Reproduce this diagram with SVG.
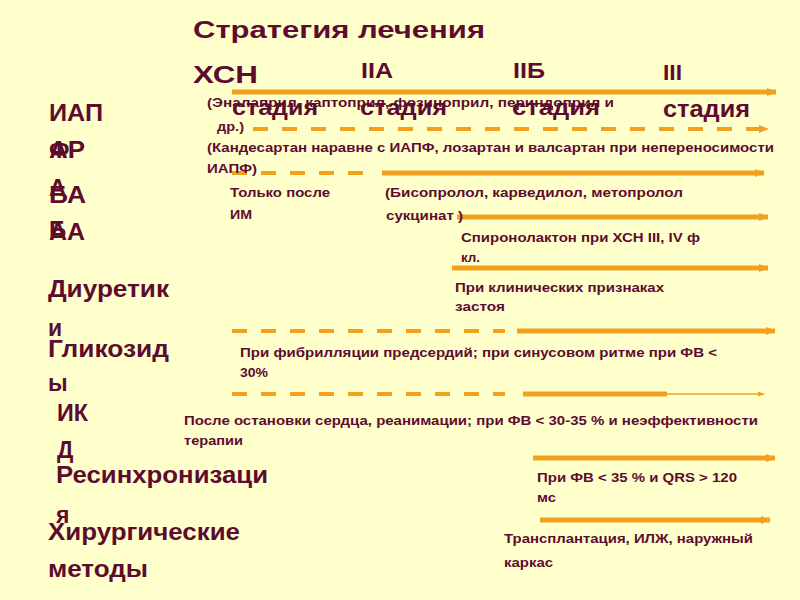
<svg xmlns="http://www.w3.org/2000/svg" width="800" height="600" viewBox="0 0 800 600">
<defs>
<style>
.t{font-family:"Liberation Sans",Arial,sans-serif;font-weight:bold;fill:#5E0B30}
.big{font-size:24px}
.lab{font-size:23px}
.st{font-size:22px}
.sm{font-size:13.5px}
.ln{stroke:#F2A11F;fill:none}
.sol{stroke-width:5}
.dash{stroke-width:4;stroke-dasharray:15 14}
</style>
<marker id="ah" markerUnits="userSpaceOnUse" markerWidth="12" markerHeight="12" refX="9" refY="6" orient="auto">
<path d="M0,2 L10,6 L0,10 Z" fill="#F2A11F"/>
</marker>
<marker id="ahs" markerUnits="userSpaceOnUse" markerWidth="8" markerHeight="8" refX="6" refY="4" orient="auto">
<path d="M0,1.5 L7,4 L0,6.5 Z" fill="#F2A11F"/>
</marker>
</defs>
<rect width="800" height="600" fill="#FFFFCC"/>

<g id="connectors">
<line class="ln sol" x1="232" y1="92" x2="776" y2="92" marker-end="url(#ah)"/>
<line class="ln dash" x1="253" y1="129" x2="768" y2="129" marker-end="url(#ah)"/>
<line class="ln dash" x1="232" y1="173" x2="365" y2="173"/>
<line class="ln sol" x1="382" y1="173" x2="764" y2="173" marker-end="url(#ah)"/>
<line class="ln sol" x1="457" y1="217" x2="768" y2="217" marker-end="url(#ah)"/>
<line class="ln sol" x1="452" y1="268" x2="768" y2="268" marker-end="url(#ah)"/>
<line class="ln dash" x1="232" y1="331" x2="505" y2="331"/>
<line class="ln sol" x1="517" y1="331" x2="775" y2="331" marker-end="url(#ah)"/>
<line class="ln dash" x1="232" y1="394" x2="505" y2="394"/>
<line class="ln sol" x1="523" y1="394" x2="667" y2="394"/>
<line class="ln" stroke-width="1.5" x1="667" y1="394" x2="764" y2="394" marker-end="url(#ahs)"/>
<line class="ln sol" x1="533" y1="458" x2="775" y2="458" marker-end="url(#ah)"/>
<line class="ln sol" x1="540" y1="520" x2="770" y2="520" marker-end="url(#ah)"/>
</g>

<g id="header">
<text class="t big" x="193" y="38" textLength="292" lengthAdjust="spacingAndGlyphs">Стратегия лечения</text>
<text class="t big" x="193" y="83" textLength="65" lengthAdjust="spacingAndGlyphs">ХСН</text>
<text class="t st" x="361" y="78" textLength="32" lengthAdjust="spacingAndGlyphs">IIA</text>
<text class="t st" x="513" y="78" textLength="32" lengthAdjust="spacingAndGlyphs">IIБ</text>
<text class="t st" x="663" y="80" textLength="19" lengthAdjust="spacingAndGlyphs">III</text>
</g>

<g id="row-iapf">
<text class="t sm" x="207" y="107" textLength="407" lengthAdjust="spacingAndGlyphs">(Эналаприл, каптоприл, фозиноприл, периндоприл и</text>
<text class="t sm" x="217" y="131" textLength="27" lengthAdjust="spacingAndGlyphs">др.)</text>
</g>

<g id="stages">
<text class="t st" x="232" y="115" textLength="86" lengthAdjust="spacingAndGlyphs">стадия</text>
<text class="t st" x="360" y="115" textLength="87" lengthAdjust="spacingAndGlyphs">стадия</text>
<text class="t st" x="512" y="115" textLength="88" lengthAdjust="spacingAndGlyphs">стадия</text>
<text class="t big" x="663" y="117" textLength="87" lengthAdjust="spacingAndGlyphs">стадия</text>
</g>

<g id="row-ara">
<text class="t sm" x="207" y="152" textLength="567" lengthAdjust="spacingAndGlyphs">(Кандесартан наравне с ИАПФ, лозартан и валсартан при непереносимости</text>
<text class="t sm" x="207" y="173" textLength="50" lengthAdjust="spacingAndGlyphs">ИАПФ)</text>
</g>

<g id="row-bab">
<text class="t sm" x="230" y="197" textLength="100" lengthAdjust="spacingAndGlyphs">Только после</text>
<text class="t sm" x="230" y="219" textLength="22" lengthAdjust="spacingAndGlyphs">ИМ</text>
<text class="t sm" x="385" y="197" textLength="298" lengthAdjust="spacingAndGlyphs">(Бисопролол, карведилол, метопролол</text>
<text class="t sm" x="386" y="220" textLength="77" lengthAdjust="spacingAndGlyphs">сукцинат )</text>
</g>

<g id="row-aa">
<text class="t sm" x="461" y="242" textLength="239" lengthAdjust="spacingAndGlyphs">Спиронолактон при ХСН III, IV ф</text>
<text class="t sm" x="461" y="262" textLength="19" lengthAdjust="spacingAndGlyphs">кл.</text>
</g>

<g id="row-diuretics">
<text class="t sm" x="455" y="292" textLength="209" lengthAdjust="spacingAndGlyphs">При клинических признаках</text>
<text class="t sm" x="455" y="311" textLength="50" lengthAdjust="spacingAndGlyphs">застоя</text>
</g>

<g id="row-glycosides">
<text class="t sm" x="240" y="357" textLength="477" lengthAdjust="spacingAndGlyphs">При фибрилляции предсердий; при синусовом ритме при ФВ &lt;</text>
<text class="t sm" x="240" y="377" textLength="28" lengthAdjust="spacingAndGlyphs">30%</text>
</g>

<g id="row-icd">
<text class="t sm" x="184" y="425" textLength="574" lengthAdjust="spacingAndGlyphs">После остановки сердца, реанимации; при ФВ &lt; 30-35 % и неэффективности</text>
<text class="t sm" x="184" y="445" textLength="59" lengthAdjust="spacingAndGlyphs">терапии</text>
</g>

<g id="row-crt">
<text class="t sm" x="537" y="482" textLength="200" lengthAdjust="spacingAndGlyphs">При ФВ &lt; 35 % и QRS &gt; 120</text>
<text class="t sm" x="537" y="502" textLength="19" lengthAdjust="spacingAndGlyphs">мс</text>
</g>

<g id="row-surgery">
<text class="t sm" x="504" y="543" textLength="249" lengthAdjust="spacingAndGlyphs">Трансплантация, ИЛЖ, наружный</text>
<text class="t sm" x="504" y="567" textLength="49" lengthAdjust="spacingAndGlyphs">каркас</text>
</g>

<g id="left-labels">
<text class="t big" x="49" y="121" textLength="54" lengthAdjust="spacingAndGlyphs">ИАП</text>
<text class="t big" x="49" y="158">Ф</text>
<text class="t big" x="49" y="158" textLength="36" lengthAdjust="spacingAndGlyphs">АР</text>
<text class="t big" x="49" y="196">А</text>
<text class="t big" x="49" y="203" textLength="37" lengthAdjust="spacingAndGlyphs">БА</text>
<text class="t big" x="49" y="238">Б</text>
<text class="t big" x="49" y="240" textLength="36" lengthAdjust="spacingAndGlyphs">АА</text>
<text class="t lab" x="48" y="297" textLength="121" lengthAdjust="spacingAndGlyphs">Диуретик</text>
<text class="t lab" x="48" y="336">и</text>
<text class="t lab" x="48" y="357" textLength="121" lengthAdjust="spacingAndGlyphs">Гликозид</text>
<text class="t lab" x="48" y="391">ы</text>
<text class="t lab" x="57" y="421" textLength="31" lengthAdjust="spacingAndGlyphs">ИК</text>
<text class="t lab" x="57" y="458">Д</text>
<text class="t lab" x="56" y="483" textLength="212" lengthAdjust="spacingAndGlyphs">Ресинхронизаци</text>
<text class="t lab" x="56" y="523">я</text>
<text class="t lab" x="48" y="540" textLength="192" lengthAdjust="spacingAndGlyphs">Хирургические</text>
<text class="t lab" x="48" y="577" textLength="100" lengthAdjust="spacingAndGlyphs">методы</text>
</g>
</svg>
